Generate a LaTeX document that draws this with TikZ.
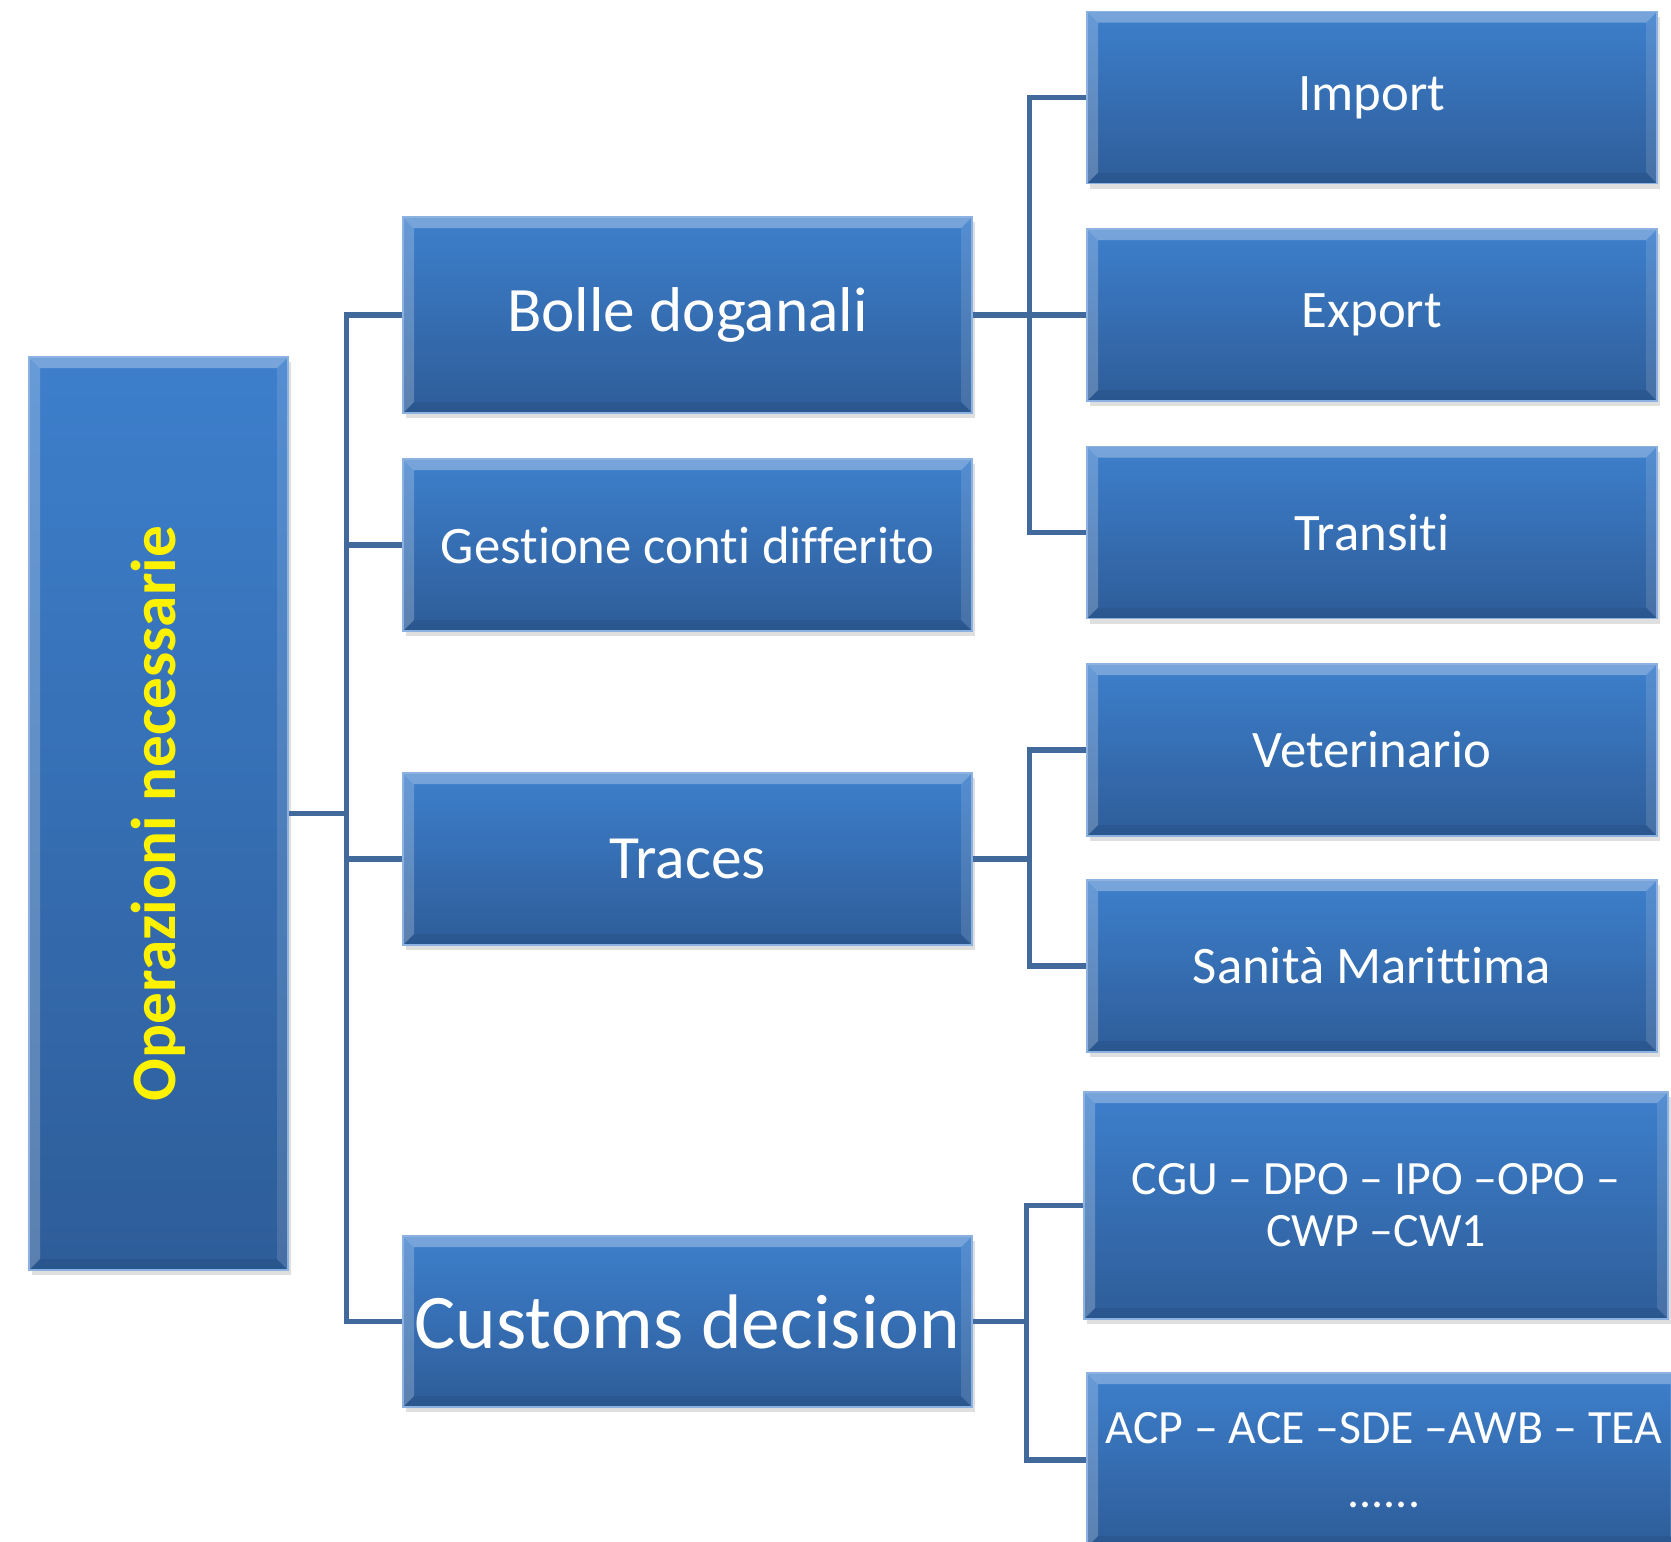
\documentclass[tikz,border=0pt]{standalone}
\usepackage{fontspec}
\setmainfont{Carlito}[Ligatures=NoCommon]
\usetikzlibrary{positioning, shadows}

\definecolor{boxtop}{HTML}{3D7FCC}
\definecolor{boxbot}{HTML}{2E5D99}
\definecolor{linkcol}{HTML}{41699C}
\def\bevw{1.1mm}

\tikzset{
  box/.style={rectangle, inner sep=0pt, top color=boxtop, bottom color=boxbot,
    draw=boxtop!60!white, line width=0.4pt, text=white, align=center,
    drop shadow={opacity=.25, shadow xshift=.03, shadow yshift=-.05},
    path picture={
      \fill[white, opacity=.30] (path picture bounding box.north west) -- (path picture bounding box.north east)
        -- ([xshift=-\bevw, yshift=-\bevw]path picture bounding box.north east)
        -- ([xshift=\bevw, yshift=-\bevw]path picture bounding box.north west) -- cycle;
      \fill[white, opacity=.22] (path picture bounding box.north west) -- (path picture bounding box.south west)
        -- ([xshift=\bevw, yshift=\bevw]path picture bounding box.south west)
        -- ([xshift=\bevw, yshift=-\bevw]path picture bounding box.north west) -- cycle;
      \fill[white, opacity=.12] (path picture bounding box.north east) -- (path picture bounding box.south east)
        -- ([xshift=-\bevw, yshift=\bevw]path picture bounding box.south east)
        -- ([xshift=-\bevw, yshift=-\bevw]path picture bounding box.north east) -- cycle;
      \fill[black, opacity=.07] (path picture bounding box.south west) -- (path picture bounding box.south east)
        -- ([xshift=-\bevw, yshift=\bevw]path picture bounding box.south east)
        -- ([xshift=\bevw, yshift=\bevw]path picture bounding box.south west) -- cycle;
    }},
  mid/.style={box, minimum width=5.69cm, minimum height=1.72cm},
  leaf/.style={box, minimum width=5.70cm, minimum height=1.72cm, font=\fontsize{15}{18}\selectfont},
  link/.style={draw=linkcol, line width=1.5pt}
}

\begin{document}
\begin{tikzpicture}[node distance=2.175cm, on grid]
    \useasboundingbox (0,0) rectangle (16.71,-15.41);

    \node[box, minimum width=2.59cm, minimum height=9.13cm] (root) at (1.585,-8.135)
        {\rotatebox{90}{\fontsize{18}{21}\selectfont\bfseries\color{yellow}Operazioni necessarie}};

    \node[mid, minimum height=1.96cm, font=\fontsize{18}{21}\selectfont] (bolle) at (6.875,-3.15) {Bolle doganali};
    \node[mid, font=\fontsize{15}{18}\selectfont] (gestione) at (6.875,-5.45) {Gestione conti differito};
    \node[mid, font=\fontsize{17.5}{21}\selectfont] (traces) at (6.875,-8.59) {Traces};
    \node[mid, minimum height=1.71cm, font=\fontsize{22}{26}\selectfont] (customs) at (6.875,-13.215) {Customs decision};

    \node[leaf] (export) [right=6.845cm of bolle] {Export};
    \node[leaf] (import) [above=of export] {Import};
    \node[leaf] (transiti) [below=of export] {Transiti};
    \node[leaf] (vet) [below=of transiti] {Veterinario};
    \node[leaf] (sanita) [below=2.16cm of vet] {Sanità Marittima};
    \node[leaf, minimum width=5.84cm, minimum height=2.27cm, font=\fontsize{13.6}{14.8}\selectfont] (cgu) at (13.76,-12.055)
        {CGU -- DPO -- IPO --OPO --\\CWP --CW1};
    \node[leaf, minimum width=5.94cm, minimum height=1.74cm, font=\fontsize{13.6}{18.2}\selectfont] (acp) at (13.84,-14.60)
        {ACP -- ACE --SDE --AWB -- TEA\\......};

    \draw[link] (root.east) -- ++(0.575,0) coordinate (t0);
    \draw[link] (bolle.west) -| (t0) |- (customs.west);
    \draw[link] (gestione.west) -- (gestione.west -| t0);
    \draw[link] (traces.west) -- (traces.west -| t0);

    \draw[link] (bolle.east) -- ++(0.57,0) coordinate (b0);
    \draw[link] (import.west) -| (b0) |- (transiti.west);
    \draw[link] (b0) -- (export.west);

    \draw[link] (traces.east) -- ++(0.57,0) coordinate (r0);
    \draw[link] (vet.west) -| (r0) |- (sanita.west);

    \draw[link] (customs.east) -- ++(0.54,0) coordinate (c0);
    \draw[link] (cgu.west) -| (c0) |- (acp.west);
\end{tikzpicture}
\end{document}
